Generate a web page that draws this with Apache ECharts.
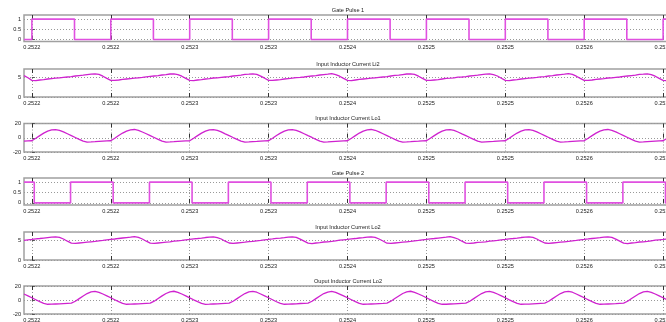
<!DOCTYPE html>
<html><head><meta charset="utf-8">
<script src="https://cdn.jsdelivr.net/npm/echarts@6/dist/echarts.min.js"></script>
<style>html,body{margin:0;padding:0;background:#fff}#c{width:666px;height:322px}</style>
</head><body><div id="c"></div>
<script>
// time axis in microseconds after 0.2522 s
const timeUs = [
 -5,-2.5,
 0,2.5,5,7.5,10,12.5,15,17.5,20,22.5,25,27.5,30,32.5,35,37.5,40,42.5,45,47.5,
 50,52.5,55,57.5,60,62.5,65,67.5,70,72.5,75,77.5,80,82.5,85,87.5,90,92.5,95,97.5,
 100,102.5,105,107.5,110,112.5,115,117.5,120,122.5,125,127.5,130,132.5,135,137.5,140,142.5,145,147.5,
 150,152.5,155,157.5,160,162.5,165,167.5,170,172.5,175,177.5,180,182.5,185,187.5,190,192.5,195,197.5,
 200,202.5,205,207.5,210,212.5,215,217.5,220,222.5,225,227.5,230,232.5,235,237.5,240,242.5,245,247.5,
 250,252.5,255,257.5,260,262.5,265,267.5,270,272.5,275,277.5,280,282.5,285,287.5,290,292.5,295,297.5,
 300,302.5,305,307.5,310,312.5,315,317.5,320,322.5,325,327.5,330,332.5,335,337.5,340,342.5,345,347.5,
 350,352.5,355,357.5,360,362.5,365,367.5,370,372.5,375,377.5,380,382.5,385,387.5,390,392.5,395,397.5,
 400,402.5,405
];
const tickTimes = [0,50,100,150,200,250,300,350,400];
const tickLabels = ['0.2522','0.2522','0.2523','0.2523','0.2524','0.2525','0.2525','0.2526','0.2526'];
const titles = ['Gate Pulse 1','Input Inductor Current Li2','Input Inductor Current Lo1','Gate Pulse 2','Input Inductor Current Lo2','Ouput Inductor Current Lo2'];

const gate1Times  = [-5,0,27,50,77,100,127,150,177,200,227,250,277,300,327,350,377,400,405];
const gate1Values = [0,1,0,1,0,1,0,1,0,1,0,1,0,1,0,1,0,1,1];
const gate2Times  = [-5,1.5,24.5,51.5,74.5,101.5,124.5,151.5,174.5,201.5,224.5,251.5,274.5,301.5,324.5,351.5,374.5,401.5,405];
const gate2Values = [1,0,1,0,1,0,1,0,1,0,1,0,1,0,1,0,1,0,0];

const li2Current = [
 5.35,4.8,
 4.15,4.1,4.25,4.35,4.5,4.6,4.7,4.8,4.9,5.0,5.1,5.25,5.35,5.45,5.6,5.7,5.8,5.65,5.2,4.65,
 4.15,4.15,4.25,4.4,4.5,4.6,4.7,4.8,4.9,5.05,5.15,5.25,5.35,5.5,5.6,5.75,5.8,5.6,5.2,4.65,
 4.15,4.1,4.25,4.35,4.5,4.6,4.75,4.8,4.9,5.0,5.1,5.25,5.35,5.45,5.65,5.7,5.8,5.65,5.2,4.7,
 4.15,4.15,4.25,4.35,4.5,4.6,4.7,4.85,4.9,5.0,5.15,5.25,5.35,5.5,5.6,5.7,5.85,5.6,5.2,4.65,
 4.15,4.1,4.25,4.4,4.5,4.6,4.7,4.8,4.9,5.0,5.1,5.25,5.4,5.45,5.6,5.75,5.8,5.65,5.2,4.65,
 4.15,4.15,4.25,4.35,4.5,4.65,4.7,4.8,4.95,5.0,5.1,5.25,5.35,5.45,5.6,5.7,5.8,5.6,5.25,4.7,
 4.15,4.1,4.25,4.35,4.5,4.6,4.7,4.8,4.9,5.05,5.1,5.25,5.35,5.5,5.6,5.7,5.85,5.65,5.2,4.65,
 4.15,4.15,4.25,4.4,4.5,4.6,4.75,4.8,4.9,5.0,5.15,5.25,5.35,5.45,5.65,5.7,5.8,5.6,5.2,4.65,
 4.15,4.1,4.25
];
const lo1Current = [
 -4.7,-4.4,
 -4.2,-0.8,3.0,6.5,9.3,11.0,11.5,10.4,8.2,5.6,3.0,0.4,-2.2,-4.7,-6.0,-5.8,-5.5,-5.1,-4.8,-4.5,
 -4.2,-0.7,3.1,6.6,9.4,11.1,11.6,10.4,8.1,5.6,3.0,0.4,-2.3,-4.7,-6.0,-5.8,-5.5,-5.1,-4.8,-4.5,
 -4.3,-0.8,3.0,6.5,9.3,11.0,11.5,10.3,8.2,5.5,3.0,0.3,-2.2,-4.8,-6.1,-5.9,-5.5,-5.2,-4.8,-4.5,
 -4.2,-0.8,3.1,6.5,9.3,11.1,11.5,10.4,8.2,5.6,2.9,0.4,-2.2,-4.7,-6.0,-5.8,-5.4,-5.1,-4.8,-4.5,
 -4.2,-0.7,3.0,6.6,9.4,11.0,11.6,10.5,8.2,5.6,3.0,0.4,-2.3,-4.7,-6.0,-5.8,-5.5,-5.1,-4.8,-4.4,
 -4.2,-0.8,3.0,6.5,9.3,11.0,11.5,10.4,8.1,5.5,3.0,0.3,-2.2,-4.7,-6.1,-5.8,-5.5,-5.2,-4.8,-4.5,
 -4.2,-0.8,3.1,6.6,9.3,11.1,11.5,10.4,8.2,5.6,3.0,0.4,-2.2,-4.8,-6.0,-5.8,-5.5,-5.1,-4.8,-4.5,
 -4.3,-0.8,3.0,6.5,9.3,11.0,11.6,10.4,8.2,5.6,3.0,0.4,-2.2,-4.7,-6.0,-5.9,-5.5,-5.1,-4.8,-4.5,
 -4.2,-0.8,3.0
];
const lo2InputCurrent = [
 4.9,5.05,
 5.15,5.26,5.37,5.49,5.6,5.71,5.8,5.65,5.25,4.7,4.2,4.15,4.25,4.35,4.45,4.55,4.65,4.8,4.9,5.05,
 5.15,5.25,5.38,5.5,5.6,5.7,5.82,5.65,5.25,4.7,4.2,4.15,4.25,4.35,4.45,4.55,4.7,4.8,4.9,5.05,
 5.15,5.26,5.37,5.49,5.62,5.71,5.8,5.6,5.25,4.7,4.25,4.15,4.25,4.35,4.45,4.6,4.65,4.8,4.9,5.05,
 5.15,5.26,5.4,5.49,5.6,5.72,5.8,5.65,5.2,4.7,4.2,4.1,4.25,4.35,4.5,4.55,4.65,4.8,4.95,5.05,
 5.15,5.26,5.37,5.5,5.6,5.71,5.8,5.65,5.25,4.75,4.2,4.15,4.25,4.35,4.45,4.55,4.65,4.8,4.9,5.05,
 5.15,5.28,5.37,5.49,5.6,5.7,5.82,5.6,5.25,4.7,4.2,4.15,4.25,4.4,4.45,4.55,4.7,4.8,4.9,5.05,
 5.15,5.26,5.37,5.49,5.62,5.71,5.8,5.65,5.25,4.7,4.25,4.15,4.25,4.35,4.45,4.55,4.65,4.8,4.9,5.05,
 5.15,5.26,5.38,5.49,5.6,5.72,5.8,5.65,5.2,4.7,4.2,4.1,4.25,4.35,4.5,4.55,4.65,4.8,4.95,5.05,
 5.15,5.26,5.37
];
const lo2OutputCurrent = [
 8.6,6.0,
 3.2,0.4,-2.4,-4.8,-6.1,-6.0,-5.7,-5.4,-5.1,-4.8,-4.5,-1.8,2.0,5.8,9.2,11.5,12.4,11.0,8.6,6.0,
 3.2,0.4,-2.4,-4.8,-6.1,-6.0,-5.7,-5.4,-5.1,-4.8,-4.5,-1.7,2.1,5.9,9.3,11.6,12.5,11.0,8.6,6.0,
 3.1,0.3,-2.4,-4.8,-6.2,-6.0,-5.7,-5.4,-5.1,-4.8,-4.5,-1.8,2.0,5.8,9.2,11.5,12.4,11.1,8.6,6.0,
 3.2,0.4,-2.5,-4.8,-6.1,-6.0,-5.7,-5.4,-5.0,-4.8,-4.5,-1.8,2.0,5.8,9.2,11.4,12.4,11.0,8.5,6.0,
 3.2,0.4,-2.4,-4.9,-6.1,-6.0,-5.7,-5.4,-5.1,-4.8,-4.4,-1.7,2.1,5.8,9.3,11.5,12.5,11.0,8.6,6.1,
 3.2,0.4,-2.4,-4.8,-6.1,-6.1,-5.7,-5.4,-5.1,-4.8,-4.5,-1.8,2.0,5.8,9.2,11.5,12.4,11.0,8.6,6.0,
 3.2,0.3,-2.4,-4.8,-6.1,-6.0,-5.8,-5.4,-5.1,-4.8,-4.5,-1.8,2.0,5.7,9.2,11.5,12.4,11.1,8.6,6.0,
 3.2,0.4,-2.4,-4.8,-6.1,-6.0,-5.7,-5.4,-5.1,-4.7,-4.5,-1.8,2.1,5.8,9.2,11.5,12.4,11.0,8.6,6.0,
 3.2,0.4,-2.4
];
const gateYTicks = [0,0.5,1];
const inputYTicks = [0,5];
const outputYTicks = [-20,0,20];

const pairs = (xs, ys) => xs.map((x, i) => [x, ys[i]]);

const panels = [
  {top:15,    height:26.5, min:-0.1, max:1.2, yTicks:gateYTicks,   data:pairs(gate1Times, gate1Values), gate:true},
  {top:69,    height:28,   min:0,    max:7,   yTicks:inputYTicks,  data:pairs(timeUs, li2Current)},
  {top:123.5, height:28.5, min:-20,  max:20,  yTicks:outputYTicks, data:pairs(timeUs, lo1Current)},
  {top:178,   height:27,   min:-0.1, max:1.2, yTicks:gateYTicks,   data:pairs(gate2Times, gate2Values), gate:true},
  {top:232,   height:28,   min:0,    max:7,   yTicks:inputYTicks,  data:pairs(timeUs, lo2InputCurrent)},
  {top:286,   height:28,   min:-20,  max:20,  yTicks:outputYTicks, data:pairs(timeUs, lo2OutputCurrent)}
];

const FONT = 'Liberation Sans, Arial, sans-serif';
const grid = [], xAxis = [], yAxis = [], series = [], graphic = [];
panels.forEach((p, i) => {
  grid.push({left:24, width:647, top:p.top, height:p.height, show:true,
    containLabel:false, outerBoundsMode:'none',
    borderColor:'#a0a0a0', borderWidth:1.5, backgroundColor:'#fff'});
  xAxis.push({type:'value', gridIndex:i, min:-5, max:405, position:'bottom',
    axisLine:{show:false},
    axisTick:{show:true, inside:true, length:4, customValues:tickTimes, lineStyle:{color:'#333', width:1}},
    axisLabel:{customValues:tickTimes, fontSize:5.6, fontFamily:FONT, color:'#222', margin:3,
      hideOverlap:false, formatter: v => tickLabels[tickTimes.indexOf(v)]},
    splitLine:{show:true, lineStyle:{type:[1,2], color:'#999', width:1}}});
  xAxis.push({type:'value', gridIndex:i, min:-5, max:405, position:'top',
    axisLine:{show:false},
    axisTick:{show:true, inside:true, length:4, customValues:tickTimes, lineStyle:{color:'#333', width:1}},
    axisLabel:{show:false}, splitLine:{show:false}});
  yAxis.push({type:'value', gridIndex:i, min:p.min, max:p.max,
    axisLine:{show:false},
    axisTick:{show:true, inside:true, length:3, customValues:p.yTicks, lineStyle:{color:'#555'}},
    axisLabel:{customValues:p.yTicks, fontSize:5.6, fontFamily:FONT, color:'#222', margin:3},
    splitLine:{show:true, lineStyle:{type:[1,2], color:'#999', width:1}}});
  series.push({type:'line', xAxisIndex:2*i, yAxisIndex:i, data:p.data,
    showSymbol:false, symbol:'none', step: p.gate ? 'end' : false,
    lineStyle:{color: p.gate ? '#e050e0' : '#cf22cf', width: p.gate ? 1.6 : 1.3},
    animation:false, silent:true, clip:true});
  graphic.push({type:'text', x:348, y:p.top - 5,
    style:{text:titles[i], fontSize:5.6, fontFamily:FONT, fill:'#222', textAlign:'center', textVerticalAlign:'middle'}});
});

const chart = echarts.init(document.getElementById('c'), null, {renderer:'canvas'});
chart.setOption({animation:false, backgroundColor:'#fff', grid, xAxis, yAxis, series, graphic});
</script>
</body></html>
